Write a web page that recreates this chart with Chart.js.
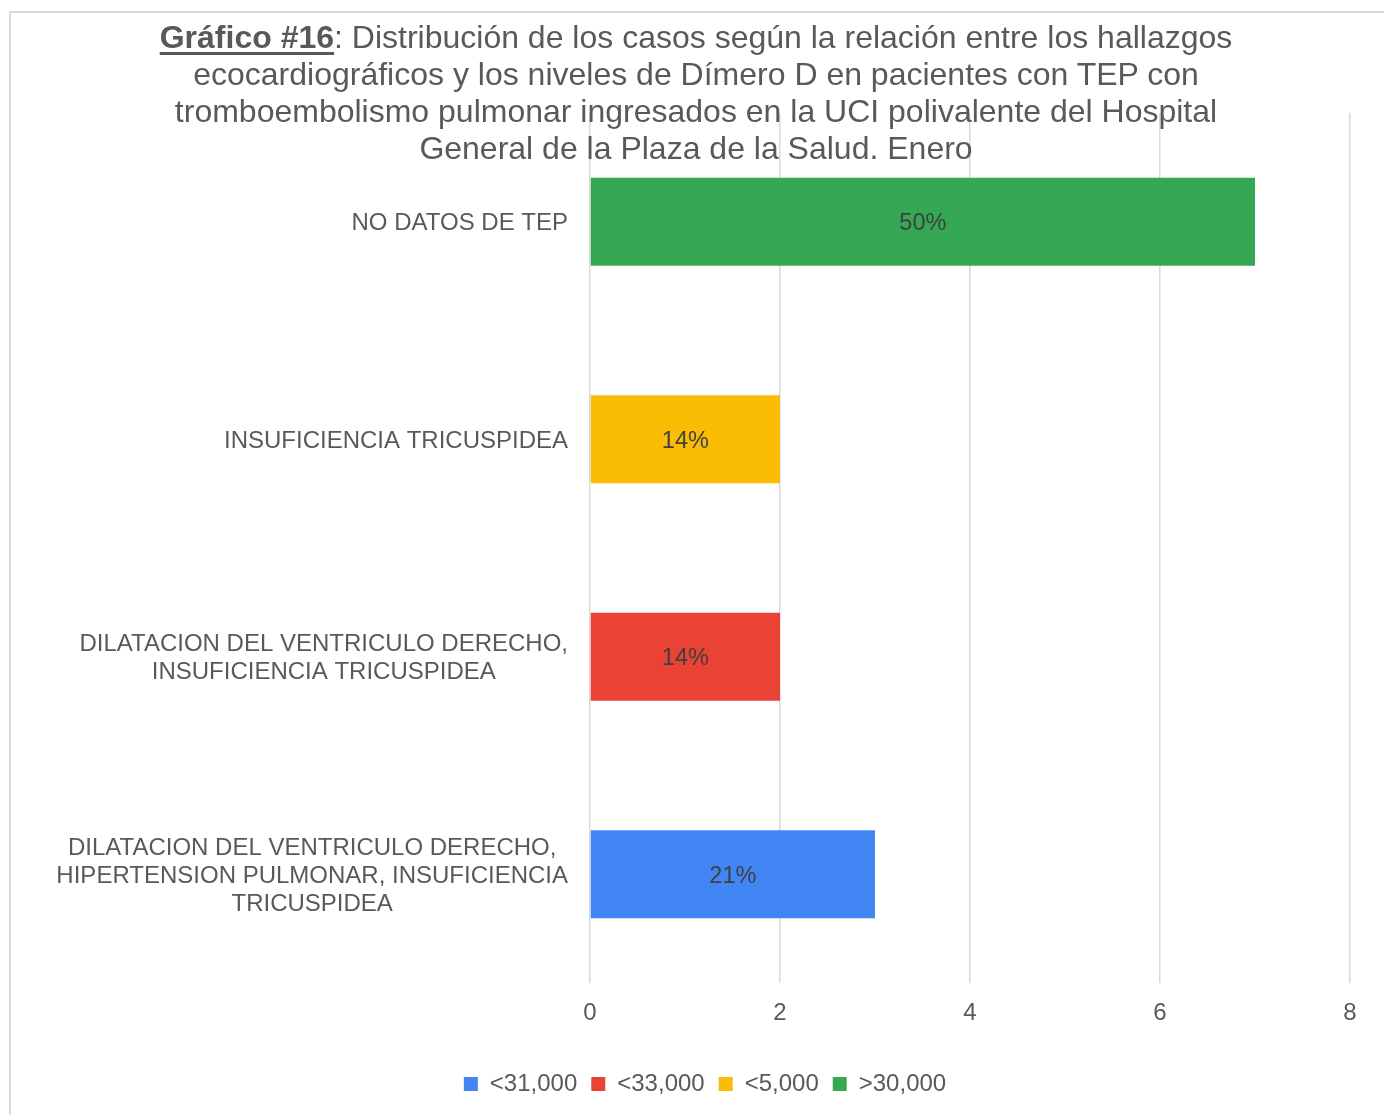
<!DOCTYPE html>
<html>
<head>
<meta charset="utf-8">
<script src="https://cdn.jsdelivr.net/npm/chart.js@4/dist/chart.umd.min.js"></script>
<style>
  html, body { margin: 0; padding: 0; width: 1384px; height: 1115px; overflow: hidden; background: #fff; }
  #frame { position: absolute; left: 9px; top: 11px; width: 1420px; height: 1200px; border: 2px solid #d9d9d9; box-sizing: border-box; }
  #wrap { position: absolute; left: 0; top: 0; width: 1384px; height: 1115px; }
  #title { position: absolute; left: 9px; top: 19px; width: 1374px; text-align: center;
           font-family: "Liberation Sans", Arial, sans-serif; font-size: 32px; line-height: 37px; color: #595959; }
  #title b { text-decoration: underline; text-underline-offset: 4px; }
</style>
</head>
<body>
<div id="frame"></div>
<div id="wrap"><canvas id="c" width="1384" height="1115"></canvas></div>
<div id="title"><b>Gráfico #16</b>: Distribución de los casos según la relación entre los hallazgos<br>ecocardiográficos y los niveles de Dímero D en pacientes con TEP con<br>tromboembolismo pulmonar ingresados en la UCI polivalente del Hospital<br>General de la Plaza de la Salud. Enero</div>
<script>
// ---- data ----
const categories = [
  ["NO DATOS DE TEP"],
  ["INSUFICIENCIA TRICUSPIDEA"],
  ["DILATACION DEL VENTRICULO DERECHO,", "INSUFICIENCIA TRICUSPIDEA"],
  ["DILATACION DEL VENTRICULO DERECHO,", "HIPERTENSION PULMONAR, INSUFICIENCIA", "TRICUSPIDEA"]
];
const seriesNames = ["<31,000", "<33,000", "<5,000", ">30,000"];
const valuesLt31000 = [null, null, null, 3];
const valuesLt33000 = [null, null, 2, null];
const valuesLt5000  = [null, 2, null, null];
const valuesGt30000 = [7, null, null, null];
const labelsLt31000 = [null, null, null, "21%"];
const labelsLt33000 = [null, null, "14%", null];
const labelsLt5000  = [null, "14%", null, null];
const labelsGt30000 = ["50%", null, null, null];
const xTicks = [0, 2, 4, 6, 8];

const FONT = '"Liberation Sans", Arial, sans-serif';
const TEXT = '#595959';

const yLabelPlugin = {
  id: 'yLabels',
  afterDraw(chart) {
    const ctx = chart.ctx;
    const ys = chart.scales.y;
    ctx.save();
    ctx.font = '24px ' + FONT;
    ctx.fillStyle = TEXT;
    ctx.textAlign = 'center';
    ctx.textBaseline = 'middle';
    const lh = 28;
    categories.forEach((lines, i) => {
      const yc = ys.getPixelForValue(i) + 2;
      let maxW = 0;
      lines.forEach(l => { maxW = Math.max(maxW, ctx.measureText(l).width); });
      const cx = chart.chartArea.left - 22 - maxW / 2;
      const y0 = yc - (lines.length - 1) * lh / 2;
      lines.forEach((l, k) => ctx.fillText(l, cx, y0 + k * lh));
    });
    ctx.restore();
  }
};

const barLabelPlugin = {
  id: 'barLabels',
  afterDatasetsDraw(chart) {
    const ctx = chart.ctx;
    ctx.save();
    ctx.font = '23.5px ' + FONT;
    ctx.fillStyle = '#404040';
    ctx.textAlign = 'center';
    ctx.textBaseline = 'middle';
    chart.data.datasets.forEach((ds, di) => {
      const meta = chart.getDatasetMeta(di);
      meta.data.forEach((el, i) => {
        if (ds.data[i] == null || !ds.pctLabels[i]) return;
        ctx.fillText(ds.pctLabels[i], (el.x + el.base) / 2, el.y + 2);
      });
    });
    ctx.restore();
  }
};

const colors = ['#4285F4', '#EA4335', '#FBBC04', '#34A853'];
const vals = [valuesLt31000, valuesLt33000, valuesLt5000, valuesGt30000];
const pls = [labelsLt31000, labelsLt33000, labelsLt5000, labelsGt30000];

new Chart(document.getElementById('c'), {
  type: 'bar',
  data: {
    labels: categories,
    datasets: seriesNames.map((n, i) => ({
      label: n,
      data: vals[i],
      pctLabels: pls[i],
      backgroundColor: colors[i],
      borderWidth: 0,
      barPercentage: 0.405,
      categoryPercentage: 1
    }))
  },
  options: {
    indexAxis: 'y',
    responsive: false,
    animation: false,
    layout: { padding: { left: 60, right: 34, top: 113, bottom: 9 } },
    scales: {
      x: {
        stacked: true,
        min: 0, max: 8,
        afterBuildTicks(s) { s.ticks = xTicks.map(v => ({ value: v })); },
        afterFit(s) { s.height = 75; },
        grid: { color: '#d9d9d9', lineWidth: 1.5, drawTicks: false },
        border: { display: false },
        ticks: { padding: 16, color: TEXT, font: { family: FONT, size: 24 } }
      },
      y: {
        stacked: true,
        grid: { display: false },
        border: { display: false },
        ticks: { display: false },
        afterFit(s) { s.width = 530; }
      }
    },
    plugins: {
      title: { display: false },
      tooltip: { enabled: false },
      legend: {
        position: 'bottom',
        labels: {
          boxWidth: 14, boxHeight: 14, padding: 14,
          color: TEXT, font: { family: FONT, size: 24 }
        }
      }
    }
  },
  plugins: [yLabelPlugin, barLabelPlugin]
});
</script>
</body>
</html>
